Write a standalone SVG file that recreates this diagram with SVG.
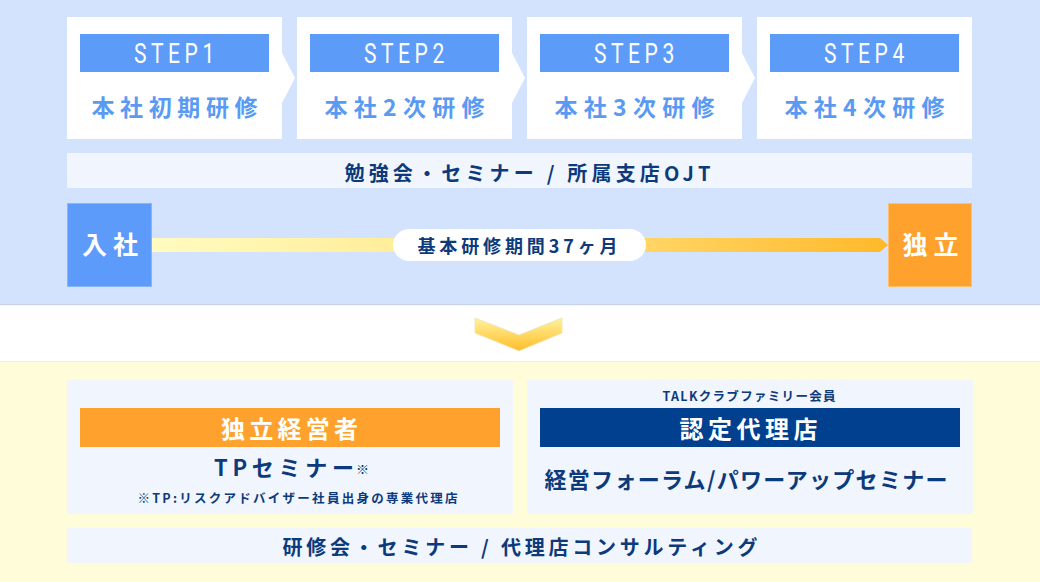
<svg xmlns="http://www.w3.org/2000/svg" width="1040" height="582" viewBox="0 0 1040 582">
<style>
.jp{font-family:"Noto Sans CJK JP","Noto Sans",sans-serif;font-weight:700;text-anchor:middle}
.step{font-family:Roboto,"Liberation Sans",sans-serif;font-size:27px;fill:#fff;text-anchor:start;letter-spacing:5.8px}
.stepname{font-size:23px;fill:#5a9af2}
.navy{fill:#0d3a7a}
.white{fill:#fff}
.box{fill:#fff}
.bar{fill:#5c9cf8}
.row{fill:#f1f6fe}
</style>
<defs>
<linearGradient id="gbar" x1="0" y1="0" x2="1" y2="0">
<stop offset="0" stop-color="#fffcc0"/>
<stop offset="0.45" stop-color="#ffe88c"/>
<stop offset="1" stop-color="#ffb92a"/>
</linearGradient>
<linearGradient id="gchev" x1="0" y1="0" x2="0" y2="1">
<stop offset="0" stop-color="#fff29c"/>
<stop offset="1" stop-color="#ffbd28"/>
</linearGradient>
</defs>
<rect x="0" y="0" width="1040" height="304" fill="#d4e3fd"/>
<rect x="0" y="304" width="1040" height="1.5" fill="#c8d3e4"/>
<rect x="0" y="305.5" width="1040" height="55.5" fill="#ffffff"/>
<rect x="0" y="361" width="1040" height="221" fill="#fffdd9"/>
<rect x="0" y="361" width="1040" height="1" fill="#f3efd2"/>

<g id="step1">
<path class="box" d="M67 17H282V53L295 78L282 103V139H67Z"/>
<rect class="bar" x="80" y="34" width="189" height="38"/>
<text class="step" transform="translate(134 63) scale(0.78 1)" x="0" y="0">STEP1</text>
<text class="jp stepname" x="174.5" y="116" textLength="166">本社初期研修</text>
</g>
<g id="step2">
<path class="box" d="M297 17H512V53L525 78L512 103V139H297Z"/>
<rect class="bar" x="310" y="34" width="189" height="38"/>
<text class="step" transform="translate(364 63) scale(0.78 1)" x="0" y="0">STEP2</text>
<text class="jp stepname" x="404.5" y="116" textLength="160">本社2次研修</text>
</g>
<g id="step3">
<path class="box" d="M527 17H742V53L755 78L742 103V139H527Z"/>
<rect class="bar" x="540" y="34" width="189" height="38"/>
<text class="step" transform="translate(594 63) scale(0.78 1)" x="0" y="0">STEP3</text>
<text class="jp stepname" x="634.5" y="116" textLength="160">本社3次研修</text>
</g>
<g id="step4">
<rect class="box" x="757" y="17" width="215" height="122"/>
<rect class="bar" x="770" y="34" width="189" height="38"/>
<text class="step" transform="translate(824 63) scale(0.78 1)" x="0" y="0">STEP4</text>
<text class="jp stepname" x="864.5" y="116" textLength="160">本社4次研修</text>
</g>

<g id="ojt">
<rect class="row" x="67" y="153" width="905" height="35"/>
<text class="jp navy" x="527.5" y="181" font-size="20" textLength="366">勉強会・セミナー / 所属支店OJT</text>
</g>

<g id="connectors">
<path d="M152 238H880L888 245L880 252H152Z" fill="url(#gbar)"/>
<path d="M475 318L519 335L562 318V333L519 351L475 333Z" fill="url(#gchev)" stroke="#f1e7b8" stroke-width="1"/>
</g>

<g id="period">
<rect x="393" y="229" width="253" height="32" rx="16" fill="#fff"/>
<text class="jp navy" x="517.5" y="253" font-size="18" textLength="200">基本研修期間37ヶ月</text>
</g>

<g id="nyusha">
<rect x="67.5" y="203.5" width="84" height="83" fill="#5c9bf9" stroke="#86b5fb" stroke-width="1"/>
<text class="jp white" x="110" y="254" font-size="25" textLength="56">入社</text>
</g>
<g id="dokuritsu">
<rect x="888.5" y="203.5" width="83" height="83" fill="#ffa22d" stroke="#ffc06a" stroke-width="1"/>
<text class="jp white" x="930.5" y="254" font-size="25" textLength="56">独立</text>
</g>

<g id="keieisha">
<rect class="row" x="67" y="380" width="446" height="134"/>
<rect x="80" y="408" width="420" height="39" fill="#ffa22d"/>
<text class="jp white" x="289.5" y="438" font-size="24" textLength="137">独立経営者</text>
<text class="jp navy" x="284" y="476" font-size="22" textLength="140">TPセミナー</text>
<text class="jp navy" x="362.5" y="474" font-size="13">※</text>
<text class="jp navy" x="297.5" y="503" font-size="12.5" textLength="320">※TP:リスクアドバイザー社員出身の専業代理店</text>
</g>

<g id="dairiten">
<rect class="row" x="527" y="380" width="446" height="134"/>
<text class="jp navy" x="749" y="401" font-size="12.5" textLength="173">TALKクラブファミリー会員</text>
<rect x="540" y="408" width="420" height="39" fill="#00408e"/>
<text class="jp white" x="748.5" y="438" font-size="24" textLength="138">認定代理店</text>
<text class="jp navy" x="746" y="488" font-size="22" textLength="403">経営フォーラム/パワーアップセミナー</text>
</g>

<g id="consulting">
<rect class="row" x="67" y="528" width="905" height="35"/>
<text class="jp navy" x="520" y="555" font-size="20" textLength="475">研修会・セミナー / 代理店コンサルティング</text>
</g>
</svg>
